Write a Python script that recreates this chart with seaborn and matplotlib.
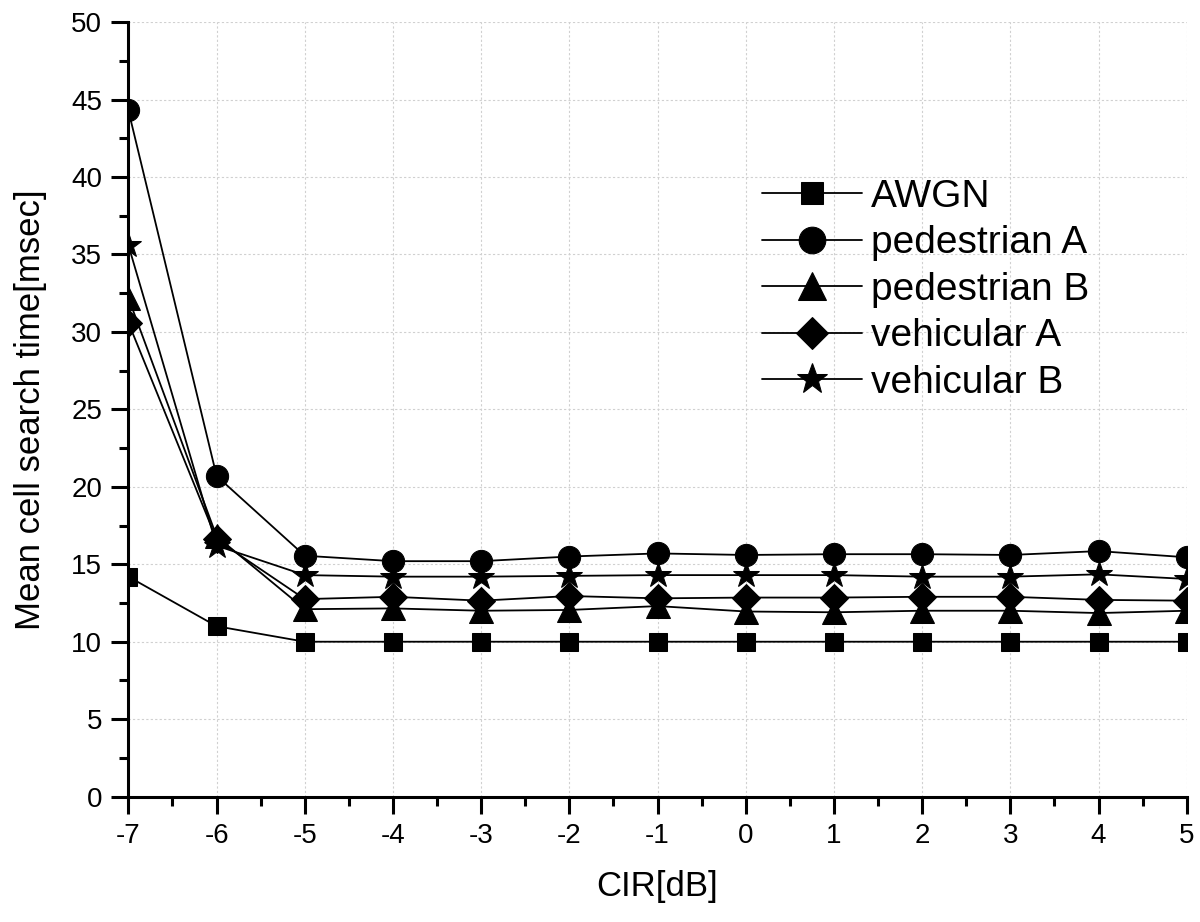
import matplotlib
matplotlib.use("Agg")
import matplotlib.pyplot as plt
import seaborn as sns
import pandas as pd
from matplotlib.ticker import MultipleLocator

cir = [-7, -6, -5, -4, -3, -2, -1, 0, 1, 2, 3, 4, 5]
awgn = [14.2, 11.0, 10.0, 10.0, 10.0, 10.0, 10.0, 10.0, 10.0, 10.0, 10.0, 10.0, 10.0]
ped_a = [44.3, 20.7, 15.55, 15.2, 15.2, 15.5, 15.7, 15.6, 15.65, 15.65, 15.6, 15.85, 15.45]
ped_b = [32.2, 16.8, 12.1, 12.15, 12.0, 12.05, 12.3, 11.95, 11.9, 12.0, 12.0, 11.85, 12.0]
veh_a = [30.6, 16.6, 12.75, 12.9, 12.65, 12.95, 12.8, 12.85, 12.85, 12.9, 12.9, 12.7, 12.65]
veh_b = [35.6, 16.2, 14.3, 14.2, 14.2, 14.25, 14.3, 14.3, 14.3, 14.2, 14.2, 14.35, 14.05]

series_names = ["AWGN", "pedestrian A", "pedestrian B", "vehicular A", "vehicular B"]
series_values = [awgn, ped_a, ped_b, veh_a, veh_b]
marker_map = {"AWGN": "s", "pedestrian A": "o", "pedestrian B": "^",
              "vehicular A": "D", "vehicular B": "*"}
size_map = {"AWGN": 13, "pedestrian A": 16, "pedestrian B": 17,
            "vehicular A": 14, "vehicular B": 19}

rows = []
for name, vals in zip(series_names, series_values):
    for x, y in zip(cir, vals):
        rows.append({"CIR": x, "time": y, "series": name})
df = pd.DataFrame(rows)

sns.set_style("white")
plt.rcParams['font.family'] = ['Liberation Sans', 'DejaVu Sans']
plt.rcParams['axes.unicode_minus'] = False
plt.rcParams['text.color'] = 'black'
plt.rcParams['axes.labelcolor'] = 'black'
plt.rcParams['xtick.color'] = 'black'
plt.rcParams['ytick.color'] = 'black'

fig = plt.figure(figsize=(12, 9.22), dpi=100)
ax = fig.add_axes([0.107, 0.136, 0.882, 0.840])

for name in series_names:
    sub = df[df["series"] == name]
    sns.lineplot(data=sub, x="CIR", y="time", ax=ax, color="black",
                 marker=marker_map[name], markersize=size_map[name],
                 markeredgecolor="black", linewidth=1.3, label=name)

ax.set_xlim(-7, 5)
ax.set_ylim(0, 50)
ax.xaxis.set_major_locator(MultipleLocator(1))
ax.xaxis.set_minor_locator(MultipleLocator(0.5))
ax.yaxis.set_major_locator(MultipleLocator(5))
ax.yaxis.set_minor_locator(MultipleLocator(2.5))
ax.tick_params(axis="both", which="major", direction="out", length=12, width=2.2,
               labelsize=20, colors="black", pad=7, bottom=True, left=True)
ax.tick_params(axis="both", which="minor", direction="out", length=6.5, width=2.2,
               colors="black", bottom=True, left=True)
ax.grid(True, which="major", color="#d0d0d0", linestyle=(0, (2, 2)), linewidth=0.8)

for s in ["top", "right"]:
    ax.spines[s].set_visible(False)
for s in ["left", "bottom"]:
    ax.spines[s].set_color("black")
    ax.spines[s].set_linewidth(2.2)

ax.set_xlabel("CIR[dB]", fontsize=25, labelpad=15)
ax.set_ylabel("Mean cell search time[msec]", fontsize=25, labelpad=17)

leg = ax.legend(loc="center left", bbox_to_anchor=(0.566, 0.6545), frameon=False,
                fontsize=28, handlelength=2.55, labelspacing=0.27, handletextpad=0.25,
                markerscale=1.2)

fig.savefig("out.png", dpi=100)
